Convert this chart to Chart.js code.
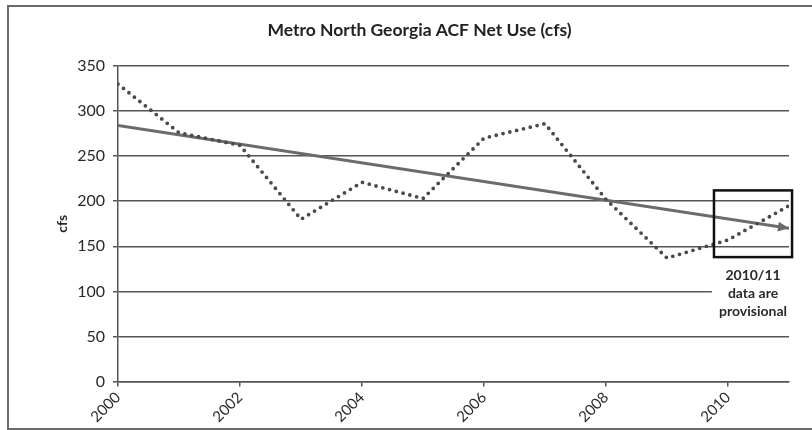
<!DOCTYPE html>
<html lang="en">
<head>
    <meta charset="UTF-8">
    <title>Metro North Georgia ACF Net Use</title>
    <script src="https://cdn.jsdelivr.net/npm/chart.js"></script>
    <style>
        body {
            margin: 0;
            background: #fff;
            font-family: Lato, Arial, sans-serif;
        }
        .frame {
            position: absolute;
            left: 7px;
            top: 5px;
            width: 900px;
            height: 421px;
            border: 2px solid #6a6a6a;
        }
        .chart-container {
            position: absolute;
            left: 0;
            top: 0;
            width: 812px;
            height: 430px;
        }
    </style>
</head>
<body>
    <div class="frame"></div>
    <div class="chart-container">
        <canvas id="useChart"></canvas>
    </div>

    <script>
        // values
        const years = [2000, 2001, 2002, 2003, 2004, 2005, 2006, 2007, 2008, 2009, 2010, 2011];
        const netUse = [330, 276, 262, 180, 221, 203, 270, 286, 202, 137, 157, 195];
        const trendYears = [2000, 2011];
        const trendUse = [284, 170];
        const provisional = { fromYear: 2009.77, toYear: 2011.05, low: 138, high: 212 };
        const noteLines = ['2010/11', 'data are', 'provisional'];

        // arrow head on the trend line, box and note for provisional years
        const notes = {
            id: 'notes',
            afterDatasetsDraw(chart) {
                const ctx = chart.ctx;
                const x = chart.scales.x, y = chart.scales.y;

                const pts = chart.getDatasetMeta(1).data;
                const a = pts[pts.length - 2], b = pts[pts.length - 1];
                const ang = Math.atan2(b.y - a.y, b.x - a.x);
                ctx.save();
                ctx.fillStyle = '#6b6b6b';
                ctx.translate(b.x, b.y);
                ctx.rotate(ang);
                ctx.beginPath();
                ctx.moveTo(0, 0);
                ctx.lineTo(-11, -5);
                ctx.lineTo(-11, 5);
                ctx.closePath();
                ctx.fill();
                ctx.restore();

                const x0 = x.getPixelForValue(provisional.fromYear);
                const x1 = x.getPixelForValue(provisional.toYear);
                const y0 = y.getPixelForValue(provisional.high);
                const y1 = y.getPixelForValue(provisional.low);
                ctx.save();
                ctx.strokeStyle = '#111';
                ctx.lineWidth = 2.5;
                ctx.strokeRect(x0, y0, x1 - x0, y1 - y0);

                const cx = (x0 + x1) / 2;
                ctx.fillStyle = '#fff';
                ctx.fillRect(x0 - 2, y1 + 8, x1 - x0 + 20, 56);
                ctx.fillStyle = '#2a2a2a';
                ctx.font = 'bold 14px Lato';
                ctx.textAlign = 'center';
                ctx.textBaseline = 'middle';
                noteLines.forEach((t, i) => ctx.fillText(t, cx, y1 + 18 + i * 18));
                ctx.restore();
            }
        };

        const ctx = document.getElementById('useChart').getContext('2d');
        new Chart(ctx, {
            type: 'line',
            data: {
                datasets: [{
                    label: 'Net use',
                    data: years.map((yr, i) => ({ x: yr, y: netUse[i] })),
                    borderColor: '#4a4a4a',
                    borderWidth: 3.8,
                    borderDash: [0, 7],
                    borderCapStyle: 'round',
                    borderJoinStyle: 'round',
                    pointRadius: 0,
                    tension: 0
                }, {
                    label: 'Trend',
                    data: trendYears.map((yr, i) => ({ x: yr, y: trendUse[i] })),
                    borderColor: '#6b6b6b',
                    borderWidth: 3,
                    pointRadius: 0
                }]
            },
            options: {
                responsive: true,
                maintainAspectRatio: false,
                animation: false,
                layout: { padding: { left: 50, right: 23, top: 0, bottom: 0 } },
                plugins: {
                    legend: { display: false },
                    tooltip: { enabled: false },
                    title: {
                        display: true,
                        text: 'Metro North Georgia ACF Net Use (cfs)',
                        color: '#222',
                        font: { family: 'Lato', size: 17.5, weight: 'bold' },
                        padding: { top: 19.5, bottom: 25.5 }
                    }
                },
                scales: {
                    x: {
                        type: 'linear',
                        min: 2000,
                        max: 2011,
                        afterFit: s => { s.height = 48.5; },
                        grid: { drawOnChartArea: false, drawTicks: true, tickLength: 5, color: '#555', lineWidth: 1.5 },
                        border: { color: '#555', width: 1.5 },
                        ticks: {
                            stepSize: 2,
                            includeBounds: false,
                            minRotation: 45,
                            maxRotation: 45,
                            padding: 2,
                            color: '#2a2a2a',
                            font: { family: 'Lato', size: 15 },
                            callback: v => String(v)
                        }
                    },
                    y: {
                        min: 0,
                        max: 350,
                        afterFit: s => { s.width = 68; },
                        grid: { color: '#555', lineWidth: 1.5, tickLength: 5 },
                        border: { color: '#555', width: 1.5 },
                        title: {
                            display: true,
                            text: 'cfs',
                            color: '#2a2a2a',
                            font: { family: 'Lato', size: 14, weight: 'bold' },
                            padding: { top: 4, bottom: 0 }
                        },
                        ticks: {
                            stepSize: 50,
                            padding: 8,
                            color: '#2a2a2a',
                            font: { family: 'Lato', size: 16 }
                        }
                    }
                }
            },
            plugins: [notes]
        });
    </script>
</body>
</html>
